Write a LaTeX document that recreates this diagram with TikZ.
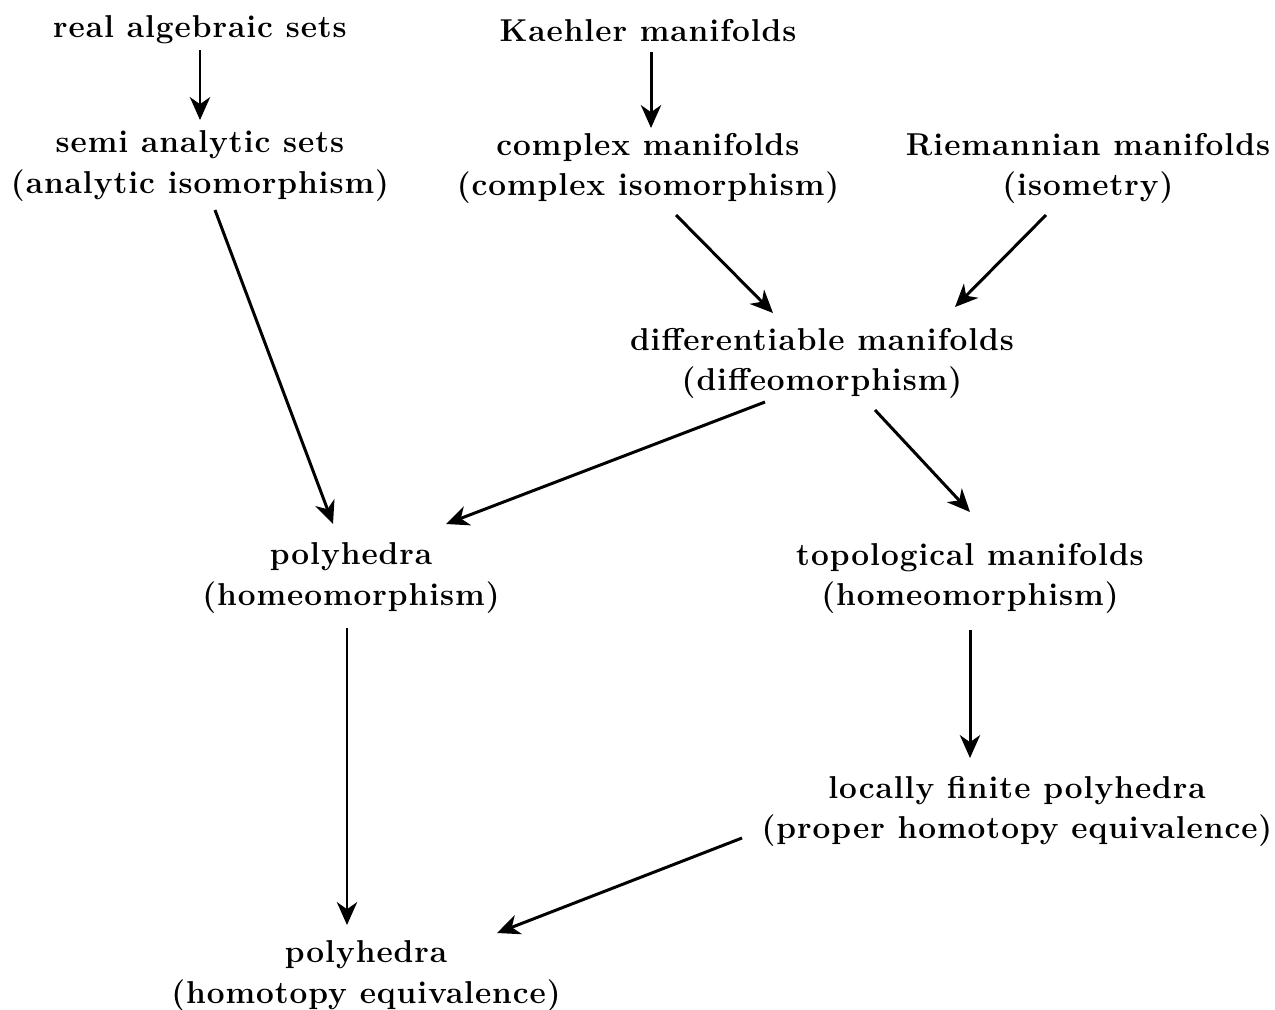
\documentclass[tikz,border=0pt]{standalone}
\usepackage{fontspec}
\setmainfont{Latin Modern Roman}[LetterSpace=3]
\usetikzlibrary{arrows.meta,calc}
\begin{document}
\begin{tikzpicture}[x=0.02cm,y=-0.02cm,
  lbl/.style={align=center,font=\fontsize{18}{22.8}\selectfont\bfseries,inner sep=0pt},
  arr/.style={-{Stealth[length=13pt,width=11.5pt,inset=4pt]},line width=1.7pt}]
\useasboundingbox (0,0) rectangle (1275,1009);
\node[lbl] (ras) at (200,30) {real algebraic sets};
\node[lbl] (kae) at (648,31) {Kaehler manifolds};
\node[lbl] (sas) at (200,166) {semi analytic sets\\(analytic isomorphism)};
\node[lbl] (cpx) at (648,168) {complex manifolds\\(complex isomorphism)};
\node[lbl] (rie) at (1088,168) {Riemannian manifolds\\(isometry)};
\node[lbl] (dif) at (822,363) {differentiable manifolds\\(diffeomorphism)};
\node[lbl] (pha) at (351,578) {polyhedra\\(homeomorphism)};
\node[lbl] (top) at (970,578) {topological manifolds\\(homeomorphism)};
\node[lbl] (lfp) at (1017,811) {locally finite polyhedra\\(proper homotopy equivalence)};
\node[lbl] (phb) at (366,976) {polyhedra\\(homotopy equivalence)};
\draw[arr] ($(ras)+(0,20)$) -- ($(sas)+(0,-46)$);
\draw[arr] ($(kae)+(3,21)$) -- ($(cpx)+(3,-40)$);
\draw[arr] ($(sas)+(15,44)$) -- ($(pha)+(-18,-54)$);
\draw[arr] ($(cpx)+(28,47)$) -- ($(dif)+(-49,-50)$);
\draw[arr] ($(rie)+(-42,47)$) -- ($(dif)+(133,-56)$);
\draw[arr] ($(dif)+(-57,39)$) -- ($(pha)+(95,-54)$);
\draw[arr] ($(dif)+(53,47)$) -- ($(top)+(0,-66)$);
\draw[arr] ($(pha)+(-4,50)$) -- ($(phb)+(-19,-51)$);
\draw[arr] ($(top)+(0,52)$) -- ($(lfp)+(-47,-53)$);
\draw[arr] ($(lfp)+(-275,27)$) -- ($(phb)+(131,-43)$);
\end{tikzpicture}
\end{document}
